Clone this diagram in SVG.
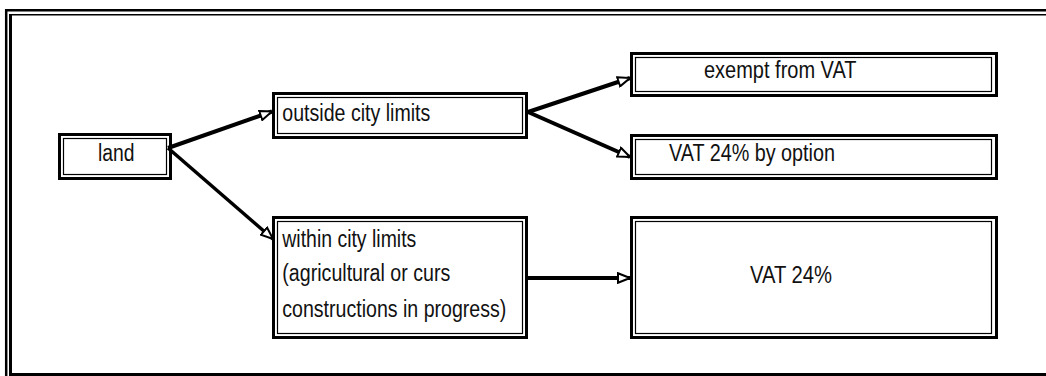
<svg xmlns="http://www.w3.org/2000/svg" width="1046" height="376" viewBox="0 0 1046 376">
<style>
.o{fill:none;stroke:#000;stroke-width:3}
.i{fill:none;stroke:#000;stroke-width:1.2}
.t{font-family:"Liberation Sans Narrow","Liberation Sans",Arial,sans-serif;font-size:23.5px;fill:#111}
.c{stroke:#000;fill:none;stroke-width:4;marker-end:url(#ah)}
</style>
<defs>
<marker id="ah" markerUnits="userSpaceOnUse" viewBox="0 0 14 12" refX="13" refY="6" markerWidth="14" markerHeight="12" orient="auto">
<polygon points="1,1.2 13,6 1,10.8" fill="#fff" stroke="#000" stroke-width="2"/>
</marker>
</defs>
<rect width="1046" height="376" fill="#fff"/>
<g id="frame">
<path d="M6.2 376V10.3H1046" fill="none" stroke="#000" stroke-width="2.5"/>
<path d="M10.5 14.8H1046" fill="none" stroke="#000" stroke-width="1.5"/>
<path d="M10.5 14V374.5H1046" fill="none" stroke="#000" stroke-width="3"/>
</g>
<g id="connectors">
<line class="c" x1="168" y1="148" x2="272" y2="111.5"/>
<line class="c" x1="168" y1="148" x2="273" y2="239" style="stroke-width:3.5"/>
<line class="c" x1="528" y1="112" x2="630" y2="78"/>
<line class="c" x1="528" y1="112" x2="630" y2="157"/>
<line class="c" x1="526" y1="278" x2="630" y2="278"/>
</g>
<g id="land">
<rect class="o" x="59.5" y="134.5" width="111" height="44"/>
<rect class="i" x="63.5" y="138.5" width="103" height="36"/>
<text class="t" x="98" y="161" textLength="36.5" lengthAdjust="spacingAndGlyphs">land</text>
</g>
<g id="outside">
<rect class="o" x="273.5" y="93.5" width="253" height="44"/>
<rect class="i" x="277.5" y="97.5" width="245" height="36"/>
<text class="t" x="282.3" y="121" textLength="148" lengthAdjust="spacingAndGlyphs">outside city limits</text>
</g>
<g id="exempt">
<rect class="o" x="631.5" y="53.5" width="365" height="42"/>
<rect class="i" x="635.5" y="57.5" width="356" height="34"/>
<text class="t" x="704" y="78" textLength="152.5" lengthAdjust="spacingAndGlyphs">exempt from VAT</text>
</g>
<g id="option">
<rect class="o" x="631.5" y="135.5" width="365" height="43"/>
<rect class="i" x="635.5" y="139.5" width="356" height="35"/>
<text class="t" x="669" y="161" textLength="166" lengthAdjust="spacingAndGlyphs">VAT 24% by option</text>
</g>
<g id="within">
<rect class="o" x="273.5" y="217.5" width="253" height="120"/>
<rect class="i" x="277.5" y="221.5" width="245" height="112"/>
<text class="t" x="282.3" y="247" textLength="134" lengthAdjust="spacingAndGlyphs">within city limits</text>
<text class="t" x="282.3" y="281" textLength="168" lengthAdjust="spacingAndGlyphs">(agricultural or curs</text>
<text class="t" x="282.3" y="317" textLength="224" lengthAdjust="spacingAndGlyphs">constructions in progress)</text>
</g>
<g id="vat24">
<rect class="o" x="631.5" y="217.5" width="365" height="120"/>
<rect class="i" x="635.5" y="221.5" width="356" height="112"/>
<text class="t" x="750" y="282.5" textLength="82" lengthAdjust="spacingAndGlyphs">VAT 24%</text>
</g>
</svg>
